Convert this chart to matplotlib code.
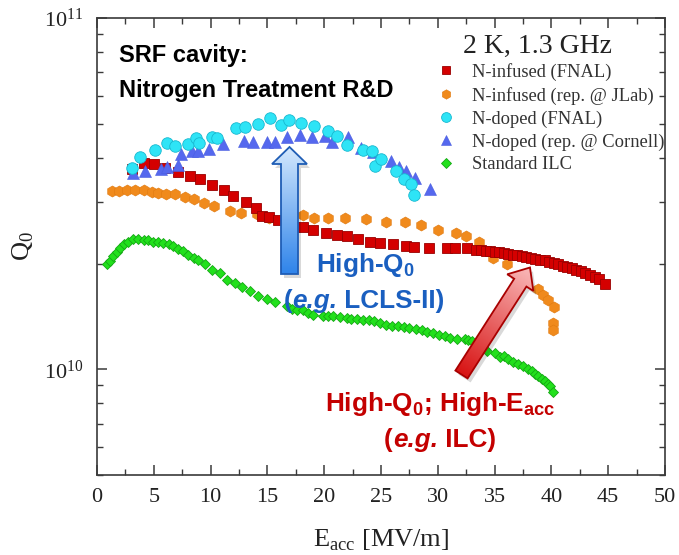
import matplotlib
matplotlib.use("Agg")
import matplotlib.pyplot as plt
import numpy as np
from matplotlib import font_manager as fm
from matplotlib.patches import Polygon
from matplotlib.colors import LinearSegmentedColormap
from matplotlib.ticker import MultipleLocator, LogLocator, NullFormatter, FixedLocator, FixedFormatter

# N-infused (FNAL), Q0 in units of 1e10
red_E = [3.1, 4.1, 5.0, 6.0, 7.1, 8.2, 9.1, 10.1, 11.2, 12.0, 13.1, 14.0, 14.55, 15.1, 15.9,
         18.1, 19.0, 20.2, 21.1, 22.0, 23.0, 24.0, 24.9, 26.1, 27.2, 27.9, 29.2, 30.8, 31.5, 32.6,
         33.4, 33.8, 34.2, 34.6, 35.0, 35.4, 35.8, 36.2, 36.6, 37.0, 37.4, 37.8, 38.2, 38.6, 39.0,
         39.4, 39.8, 40.2, 40.6, 41.0, 41.4, 41.8, 42.2, 42.6, 43.0, 43.4, 43.8, 44.2, 44.7]
red_Q = [3.72, 3.86, 3.84, 3.73, 3.64, 3.56, 3.48, 3.34, 3.23, 3.11, 2.99, 2.87, 2.73, 2.72, 2.66,
         2.54, 2.49, 2.45, 2.41, 2.39, 2.35, 2.31, 2.29, 2.27, 2.25, 2.23, 2.22, 2.22, 2.22, 2.21,
         2.19, 2.18, 2.17, 2.17, 2.16, 2.15, 2.14, 2.13, 2.12, 2.11, 2.10, 2.09, 2.08, 2.06, 2.05,
         2.04, 2.02, 2.01, 1.99, 1.97, 1.95, 1.94, 1.92, 1.90, 1.88, 1.86, 1.83, 1.81, 1.75]

# N-infused (rep. @ JLab)
orange_E = [1.3, 1.9, 2.6, 3.35, 4.1, 4.8, 5.4, 6.1, 6.9, 7.75, 8.5, 9.45, 10.3, 11.7, 12.7, 14.1,
            15.1, 18.15, 19.1, 20.3, 21.8, 23.7, 25.4, 27.1, 28.5, 30.0, 31.6, 32.5, 33.6, 34.9,
            36.1, 38.8, 39.3, 39.7, 40.2, 40.1, 40.1]
orange_Q = [3.21, 3.21, 3.23, 3.23, 3.23, 3.20, 3.18, 3.16, 3.15, 3.09, 3.05, 2.97, 2.92, 2.82,
            2.79, 2.76, 2.70, 2.74, 2.70, 2.69, 2.70, 2.68, 2.63, 2.63, 2.58, 2.49, 2.45, 2.40,
            2.30, 2.07, 2.00, 1.69, 1.63, 1.57, 1.50, 1.35, 1.29]

# N-doped (FNAL)
cyan_E = [3.1, 3.8, 5.1, 6.2, 6.9, 8.0, 8.7, 9.0, 10.1, 10.6, 12.2, 13.0, 14.2, 15.2, 16.2, 16.9,
          18.0, 19.1, 20.3, 21.1, 22.0, 23.4, 24.2, 24.5, 25.0, 26.3, 27.0, 27.6, 27.9]
cyan_Q = [3.75, 4.01, 4.21, 4.41, 4.32, 4.38, 4.54, 4.41, 4.59, 4.56, 4.87, 4.88, 4.98, 5.19, 4.97,
          5.11, 5.01, 4.92, 4.76, 4.61, 4.36, 4.21, 4.18, 3.78, 3.98, 3.66, 3.48, 3.37, 3.13]

# N-doped (rep. @ Cornell)
blue_E = [3.2, 4.2, 5.6, 6.2, 7.1, 7.4, 8.4, 8.85, 9.9, 11.05, 12.9, 13.7, 14.95, 15.7, 16.7, 17.9,
          18.9, 20.1, 20.7, 22.1, 23.2, 24.3, 25.9, 26.6, 27.2, 28.0, 29.3]
blue_Q = [3.63, 3.66, 3.71, 3.76, 3.82, 4.11, 4.17, 4.17, 4.24, 4.38, 4.46, 4.45, 4.45, 4.45, 4.59,
          4.64, 4.59, 4.60, 4.45, 4.59, 4.26, 4.15, 3.92, 3.76, 3.68, 3.51, 3.27]

# Standard ILC
green_E = [0.85, 1.15, 1.45, 1.75, 2.0, 2.4, 2.75, 3.2, 3.65, 4.1, 4.5, 4.95, 5.4, 5.85, 6.3, 6.7,
           7.15, 7.6, 8.05, 8.5, 8.9, 9.5, 10.1, 10.8, 11.4, 12.15, 12.75, 13.45, 14.15, 15.0,
           15.65, 16.7, 17.15, 17.6, 18.15, 18.6, 19.05, 19.9, 20.3, 20.8, 21.4, 22.0, 22.4, 22.85,
           23.4, 23.9, 24.4, 24.9, 25.4, 26.0, 26.5, 27.0, 27.5, 28.1, 28.6, 29.05, 29.6, 30.1,
           30.6, 31.1, 31.65, 32.4, 32.7, 33.0, 34.3, 35.0, 35.5, 35.8, 36.2, 36.65, 37.1, 37.5,
           37.9, 38.25, 38.55, 38.85, 39.15, 39.45, 39.7, 39.9, 40.15]
green_Q = [1.99, 2.03, 2.10, 2.15, 2.22, 2.28, 2.31, 2.35, 2.35, 2.34, 2.33, 2.31, 2.31, 2.29, 2.28,
           2.24, 2.20, 2.17, 2.12, 2.08, 2.04, 1.99, 1.92, 1.88, 1.80, 1.76, 1.72, 1.67, 1.62, 1.58,
           1.55, 1.51, 1.48, 1.47, 1.47, 1.45, 1.43, 1.42, 1.42, 1.42, 1.41, 1.40, 1.39, 1.39,
           1.385, 1.38, 1.37, 1.35, 1.34, 1.33, 1.325, 1.32, 1.31, 1.30, 1.29, 1.28, 1.27, 1.255,
           1.24, 1.23, 1.22, 1.22, 1.21, 1.20, 1.13, 1.11, 1.085, 1.09, 1.07, 1.05, 1.035, 1.02,
           1.00, 0.989, 0.97, 0.957, 0.94, 0.926, 0.91, 0.897, 0.859]

labels = ["N-infused (FNAL)", "N-infused (rep. @ JLab)", "N-doped (FNAL)",
          "N-doped (rep. @ Cornell)", "Standard ILC"]
x_ticks = [0, 5, 10, 15, 20, 25, 30, 35, 40, 45, 50]

names = {f.name for f in fm.fontManager.ttflist}
sans = "Liberation Sans Narrow" if "Liberation Sans Narrow" in names else "Liberation Sans"
big = 21 if sans == "Liberation Sans Narrow" else 18.8

plt.rcParams["font.family"] = "Liberation Serif"
plt.rcParams["mathtext.fontset"] = "custom"
plt.rcParams["mathtext.rm"] = "Liberation Serif"
plt.rcParams["mathtext.bf"] = sans + ":bold"


def block_arrow(ov, tail, tip, w, hw, hl, c_light, c_dark, edge):
    tail = np.array(tail, float)
    tip = np.array(tip, float)
    d = tip - tail
    L = np.hypot(*d)
    u = d / L
    n = np.array([-u[1], u[0]])
    base = tip - u * hl
    pts = np.array([tail + n * w / 2, base + n * w / 2, base + n * hw / 2, tip,
                    base - n * hw / 2, base - n * w / 2, tail - n * w / 2])
    ov.add_patch(Polygon(pts + [3, 4], closed=True, fc="black", alpha=0.15, ec="none", zorder=1))
    poly = Polygon(pts, closed=True, fc="none", ec=edge, lw=1.3, zorder=3)
    ov.add_patch(poly)
    x0, x1 = pts[:, 0].min(), pts[:, 0].max()
    y0, y1 = pts[:, 1].min(), pts[:, 1].max()
    gx, gy = np.meshgrid(np.linspace(x0, x1, 80), np.linspace(y0, y1, 160))
    t = ((gx - tip[0]) * -u[0] + (gy - tip[1]) * -u[1]) / L
    cmap = LinearSegmentedColormap.from_list("g", [c_light, c_dark])
    im = ov.imshow(t, extent=(x0, x1, y1, y0), origin="upper", cmap=cmap, vmin=0, vmax=1,
                   aspect="auto", interpolation="bilinear", zorder=2)
    im.set_clip_path(poly)


def rich_line(ov, xc, y, parts, color, size):
    # parts: (text, italic); pieces are chained, then the whole line is centred on xc
    kw = dict(family=sans, fontweight="bold", fontsize=size, color=color)
    pieces = []
    for s, it in parts:
        style = "italic" if it else "normal"
        if not pieces:
            t = ov.text(xc, y, s, va="baseline", ha="left", fontstyle=style, **kw)
        else:
            t = ov.annotate(s, xy=(1, 0), xycoords=pieces[-1], va="bottom", ha="left",
                            fontstyle=style, **kw)
        pieces.append(t)
    r = ov.figure.canvas.get_renderer()
    x0 = pieces[0].get_window_extent(r).x0
    x1 = pieces[-1].get_window_extent(r).x1
    pieces[0].set_x(xc - (x1 - x0) / 2)


fig = plt.figure(figsize=(6.79, 5.55), dpi=100)
ax = fig.add_axes([97 / 679, 1 - 475 / 555, 568 / 679, 457 / 555])
ax.set_yscale("log")

s = 1e10
h1, = ax.plot(red_E, np.array(red_Q) * s, "s", ms=6.5, mfc="#d40000", mec="#9a0000", mew=0.6, zorder=4)
h2, = ax.plot(orange_E, np.array(orange_Q) * s, "h", ms=8, mfc="#f08a1c", mec="#e07a10", mew=0.4, zorder=3)
h3, = ax.plot(cyan_E, np.array(cyan_Q) * s, "o", ms=8.3, mfc="#2ee4f6", mec="#18b8d0", mew=0.6, zorder=5)
h4, = ax.plot(blue_E, np.array(blue_Q) * s, "^", ms=8.5, mfc="#5568ee", mec="#4a5ee0", mew=0.4, zorder=4)
h5, = ax.plot(green_E, np.array(green_Q) * s, "D", ms=5.6, mfc="#22e01c", mec="#14a814", mew=0.6, zorder=3)

ax.set_xlim(0, 50)
ax.set_ylim(5e9, 1e11)
ax.xaxis.set_major_locator(FixedLocator(x_ticks))
ax.xaxis.set_minor_locator(MultipleLocator(2.5))
ax.yaxis.set_major_locator(FixedLocator([1e10, 1e11]))
ax.yaxis.set_major_formatter(FixedFormatter([r"$\mathrm{10^{10}}$", r"$\mathrm{10^{11}}$"]))
ax.yaxis.set_minor_locator(LogLocator(base=10, subs=np.arange(2, 10)))
ax.yaxis.set_minor_formatter(NullFormatter())
ax.tick_params(which="both", direction="in", top=True, right=True, colors="#3a3a3a",
               labelcolor="#222222", labelsize=16)
ax.tick_params(which="major", length=7, width=1.1)
ax.tick_params(which="minor", length=4, width=1.0)
ax.tick_params(axis="x", pad=9)
ax.tick_params(axis="y", pad=10)
for sp in ax.spines.values():
    sp.set_color("#3a3a3a")
    sp.set_linewidth(1.2)

ax.set_xlabel(r"E$_\mathrm{acc}$ [MV/m]", fontsize=19, color="#222222")
ax.xaxis.set_label_coords(0.5, -0.115)
ax.set_ylabel(r"Q$_\mathrm{0}$", fontsize=19, color="#222222")
ax.yaxis.set_label_coords(-0.108, 0.5)

ax.legend([h1, h2, h3, h4, h5], labels, loc="upper left",
          bbox_to_anchor=(437 / 679, 1 - 63 / 555), bbox_transform=fig.transFigure,
          frameon=False, borderpad=0, borderaxespad=0, handlelength=1.0, handletextpad=0.9,
          labelspacing=0.31, numpoints=1, markerscale=0.85,
          prop={"family": "Liberation Serif", "size": 13.3}, labelcolor="#333333")

# overlay in pixel coordinates for the annotations
ov = fig.add_axes([0, 0, 1, 1], zorder=5)
ov.set_xlim(0, 679)
ov.set_ylim(555, 0)
ov.axis("off")

block_arrow(ov, (289.5, 274), (289.5, 147), 17, 35, 17, "#d4e8fd", "#2f84ea", "#1f5db5")
block_arrow(ov, (461.5, 374.5), (530, 267.5), 14.5, 31, 18, "#f9b8b8", "#d81414", "#a80000")

ov.text(119, 62, "SRF cavity:", family=sans, fontweight="bold", fontsize=big - 1.8, color="black",
        va="baseline", ha="left")
ov.text(119, 97.5, "Nitrogen Treatment R&D", family=sans, fontweight="bold", fontsize=big - 1.8,
        color="black", va="baseline", ha="left")
ov.text(537, 53, "2 K, 1.3 GHz", family="Liberation Serif", fontsize=20, color="#222222",
        va="baseline", ha="center")

blue = "#1a5fc0"
ov.text(365, 272, r"High-Q$_\mathbf{0}$", family=sans, fontweight="bold", fontsize=big,
        color=blue, va="baseline", ha="center")
red = "#c40000"
ov.text(440, 411, r"High-Q$_\mathbf{0}$; High-E$_\mathbf{acc}$", family=sans, fontweight="bold",
        fontsize=big, color=red, va="baseline", ha="center")
rich_line(ov, 364, 308, [("(", False), ("e.g.", True), (" LCLS-II)", False)], blue, big)
rich_line(ov, 440, 447, [("(", False), ("e.g.", True), (" ILC)", False)], red, big)

fig.savefig("out.png", dpi=100)
